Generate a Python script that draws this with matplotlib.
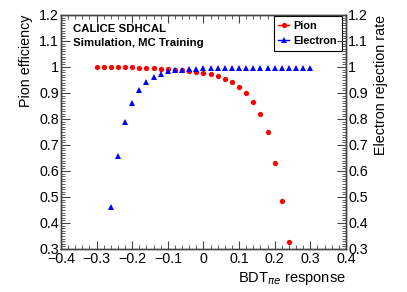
import numpy as np
import matplotlib
matplotlib.use("Agg")
import matplotlib.pyplot as plt
from matplotlib.ticker import MultipleLocator, FuncFormatter
from matplotlib.lines import Line2D

plt.rcParams['font.family'] = ['Liberation Sans', 'DejaVu Sans']

# BDT cut values and efficiencies
pion_cut = [-0.30, -0.28, -0.26, -0.24, -0.22, -0.20, -0.18, -0.16, -0.14, -0.12,
            -0.10, -0.08, -0.06, -0.04, -0.02, 0.00, 0.02, 0.04, 0.06, 0.08,
            0.10, 0.12, 0.14, 0.16, 0.18, 0.20, 0.22, 0.24]
pion_eff = [1.000, 1.000, 1.000, 1.000, 0.999, 0.999, 0.998, 0.997, 0.995, 0.993,
            0.991, 0.989, 0.987, 0.984, 0.981, 0.978, 0.973, 0.965, 0.955, 0.942,
            0.924, 0.899, 0.864, 0.820, 0.749, 0.630, 0.484, 0.327]

elec_cut = [-0.26, -0.24, -0.22, -0.20, -0.18, -0.16, -0.14, -0.12, -0.10, -0.08,
            -0.06, -0.04, -0.02, 0.00, 0.02, 0.04, 0.06, 0.08, 0.10, 0.12,
            0.14, 0.16, 0.18, 0.20, 0.22, 0.24, 0.26, 0.28, 0.30]
elec_rej = [0.460, 0.656, 0.787, 0.863, 0.910, 0.941, 0.960, 0.974, 0.983, 0.987,
            0.990, 0.992, 0.994, 0.995, 0.996, 0.996, 0.997, 0.997, 0.997, 0.997,
            0.997, 0.997, 0.997, 0.997, 0.997, 0.997, 0.997, 0.997, 0.997]

axcol = '#444444'


def root_fmt(v, pos):
    s = '%g' % round(v, 3)
    return s.replace('-', '\u2212')


fig = plt.figure(figsize=(4.07, 2.92), dpi=100)
ax = fig.add_axes([61 / 407, 1 - 249 / 292, 285 / 407, 234 / 292])
ax.set_xlim(-0.4, 0.4)
ax.set_ylim(0.3, 1.2)

ax.plot(pion_cut, pion_eff, 'o', color='#ff0000', markersize=3.8, markeredgewidth=0)
ax.plot(elec_cut, elec_rej, '^', color='#0000ff', markersize=4.0, markeredgewidth=0)

for sp in ax.spines.values():
    sp.set_color(axcol)
    sp.set_linewidth(1.0)

ax.xaxis.set_major_locator(MultipleLocator(0.1))
ax.xaxis.set_minor_locator(MultipleLocator(0.02))
ax.yaxis.set_major_locator(MultipleLocator(0.1))
ax.yaxis.set_minor_locator(MultipleLocator(0.01))
ax.xaxis.set_major_formatter(FuncFormatter(root_fmt))
ax.yaxis.set_major_formatter(FuncFormatter(root_fmt))
ax.tick_params(which='both', direction='in', top=True, right=False, color=axcol,
               labelsize=10.3, labelcolor='black')
ax.tick_params(axis='x', which='major', length=5.5, pad=2)
ax.tick_params(axis='x', which='minor', length=2.8)
ax.tick_params(axis='y', which='major', length=6.5, pad=1.5)
ax.tick_params(axis='y', which='minor', length=3.2)

ax2 = ax.twinx()
ax2.set_ylim(0.3, 1.2)
ax2.yaxis.set_major_locator(MultipleLocator(0.1))
ax2.yaxis.set_minor_locator(MultipleLocator(0.01))
ax2.yaxis.set_major_formatter(FuncFormatter(root_fmt))
ax2.tick_params(which='both', direction='in', color=axcol, labelsize=10.3)
ax2.tick_params(which='major', length=6.5, pad=1.5)
ax2.tick_params(which='minor', length=3.2)
for sp in ax2.spines.values():
    sp.set_color(axcol)
    sp.set_linewidth(1.0)

ax.set_xlabel(r'BDT$_{\pi e}$ response', fontsize=10.5, loc='right', labelpad=3)
ax.set_ylabel('Pion efficiency', fontsize=10.3, loc='top', labelpad=4)
ax2.set_ylabel('Electron rejection rate', fontsize=10.3, loc='top', labelpad=4)

ax.text(0.042, 0.94, 'CALICE SDHCAL', transform=ax.transAxes, fontsize=8.2,
        fontweight='bold', va='center', ha='left')
ax.text(0.042, 0.88, 'Simulation, MC Training', transform=ax.transAxes, fontsize=8.2,
        fontweight='bold', va='center', ha='left')

handles = [Line2D([], [], color='#ff0000', marker='o', markersize=3.8, lw=1, markeredgewidth=0),
           Line2D([], [], color='#0000ff', marker='^', markersize=4.0, lw=1, markeredgewidth=0)]
leg = ax.legend(handles, ['Pion', 'Electron'], loc='upper right',
                bbox_to_anchor=(0.986, 0.997), prop={'weight': 'bold', 'size': 7.8},
                handlelength=1.0, handletextpad=0.4, borderpad=0.45,
                labelspacing=0.5, fancybox=False, framealpha=1, borderaxespad=0)
leg.get_frame().set_edgecolor('black')
leg.get_frame().set_linewidth(0.8)

fig.savefig('out.png', dpi=100)
